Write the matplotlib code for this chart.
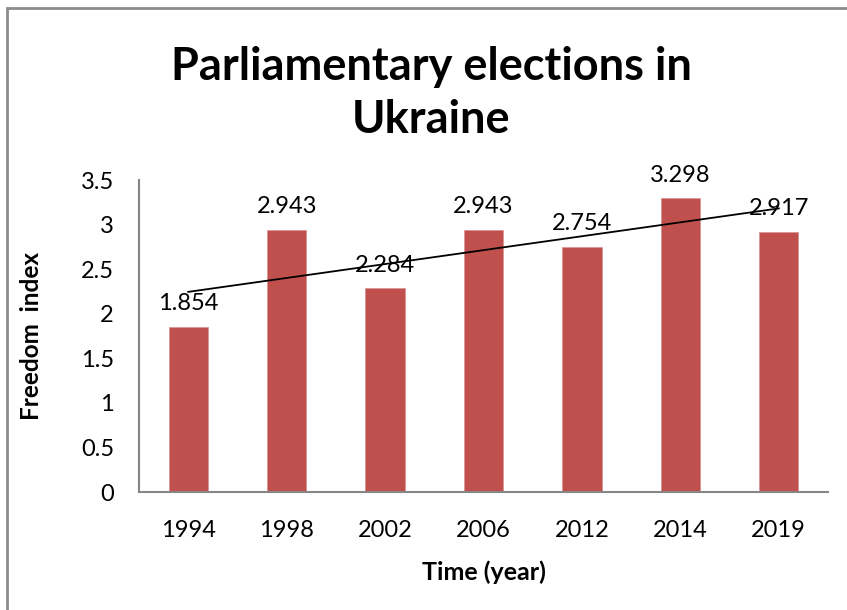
import numpy as np
import matplotlib
matplotlib.use("Agg")
import matplotlib.pyplot as plt
from matplotlib.patches import Rectangle

plt.rcParams['font.family'] = ['Lato', 'DejaVu Sans']

# election years and freedom index values
years = ['1994', '1998', '2002', '2006', '2012', '2014', '2019']
freedom_index = [1.854, 2.943, 2.284, 2.943, 2.754, 3.298, 2.917]

bar_color = '#C0504D'
axis_color = '#868686'

fig = plt.figure(figsize=(8.47, 6.10), dpi=100)
ax = fig.add_axes([0.1641, 0.1934, 0.8135, 0.5115])

x = np.arange(len(years))
ax.bar(x, freedom_index, width=0.4, color=bar_color, edgecolor='#D99694', linewidth=0.6, zorder=2)

# linear trend line over the bars
k, b = np.polyfit(x, freedom_index, 1)
ax.plot(x, k * x + b, color='black', linewidth=1.3, zorder=3)

# value labels above bars
for xi, v in zip(x, freedom_index):
    ax.annotate(f'{v:.3f}', (xi, v), xytext=(0, 9), textcoords='offset points',
                ha='center', va='bottom', fontsize=17, zorder=4)

ax.set_xlim(-0.5, len(years) - 0.5)
ax.set_ylim(0, 3.5)
ax.set_yticks(np.arange(0, 3.51, 0.5))
ax.set_yticklabels(['0', '0.5', '1', '1.5', '2', '2.5', '3', '3.5'])
ax.set_xticks(x)
ax.set_xticklabels(years)
ax.tick_params(axis='both', length=0, labelsize=17)
ax.tick_params(axis='x', pad=20)
ax.tick_params(axis='y', pad=18)

for side in ['top', 'right']:
    ax.spines[side].set_visible(False)
for side in ['left', 'bottom']:
    ax.spines[side].set_color(axis_color)
    ax.spines[side].set_linewidth(1.5)

ax.set_xlabel('Time (year)', fontsize=18, fontweight='bold', labelpad=14)
ax.set_ylabel('Freedom  index', fontsize=17.5, fontweight='bold', labelpad=27)

fig.text(0.509, 0.847, 'Parliamentary elections in\nUkraine', ha='center', va='center',
         fontsize=32.5, fontweight='bold', linespacing=1.33)

# chart border, running off the right and bottom edges
fig.patches.append(Rectangle((7 / 847, -0.05), 1.0, 1 - 8 / 610 + 0.05,
                             transform=fig.transFigure, fill=False,
                             edgecolor='#8C8C8C', linewidth=2))

fig.savefig('out.png', dpi=100)
